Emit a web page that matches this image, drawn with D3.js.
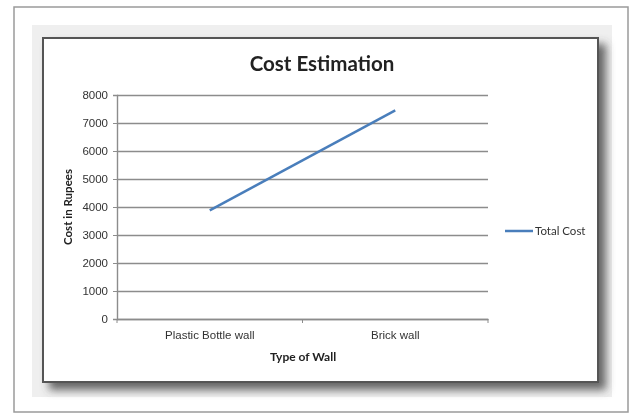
<!DOCTYPE html>
<html>
<head>
<meta charset="utf-8">
<script src="https://cdn.jsdelivr.net/npm/d3@7"></script>
<style>
  html, body { margin: 0; padding: 0; background: #fff; }
  svg { display: block; font-family: Lato, "Open Sans", sans-serif; }
  .tick text { fill: #333; }
</style>
</head>
<body>
<svg width="632" height="415"></svg>
<script>
// chart values
const categories = ["Plastic Bottle wall", "Brick wall"];
const totalCost = [3880, 7450];
const yTicks = [0, 1000, 2000, 3000, 4000, 5000, 6000, 7000, 8000];
const seriesName = "Total Cost";

const svg = d3.select("svg");

// frame + drop shadow like the pasted excel picture
const defs = svg.append("defs");
const sh = defs.append("filter").attr("id", "shadow")
    .attr("x", "-10%").attr("y", "-10%").attr("width", "130%").attr("height", "130%");
sh.append("feDropShadow")
    .attr("dx", 7).attr("dy", 7).attr("stdDeviation", 4)
    .attr("flood-color", "#444").attr("flood-opacity", 0.8);
const soft = defs.append("filter").attr("id", "soft");
soft.append("feGaussianBlur").attr("stdDeviation", 0.45);

svg.append("rect")
    .attr("x", 14).attr("y", 7).attr("width", 614).attr("height", 405)
    .attr("fill", "#fff").attr("stroke", "#9a9a9a").attr("stroke-width", 1.5);
svg.append("rect")
    .attr("x", 32).attr("y", 25).attr("width", 580).attr("height", 372)
    .attr("fill", "#efefef");
svg.append("rect")
    .attr("x", 43).attr("y", 38).attr("width", 555).attr("height", 344)
    .attr("fill", "#fff").attr("stroke", "#555").attr("stroke-width", 2)
    .attr("filter", "url(#shadow)");

const g = svg.append("g").attr("filter", "url(#soft)");

const x = d3.scaleBand().domain(categories).range([117, 488]).padding(0);
const y = d3.scaleLinear().domain([0, 8000]).range([319, 95]);

// gridlines
g.append("g")
    .attr("transform", "translate(117,0)")
    .call(d3.axisLeft(y).tickValues(yTicks).tickSize(-(488 - 117)).tickFormat(""))
    .call(a => a.select(".domain").remove())
    .call(a => a.selectAll("line").attr("stroke", "#8c8c8c").attr("stroke-width", 1.4));

// y axis
g.append("g")
    .attr("transform", "translate(117,0)")
    .call(d3.axisLeft(y).tickValues(yTicks).tickSize(4).tickPadding(5).tickFormat(d3.format("d")))
    .call(a => a.select(".domain").attr("stroke", "#8c8c8c").attr("stroke-width", 1.4))
    .call(a => a.selectAll("line").attr("stroke", "#8c8c8c"))
    .call(a => a.selectAll("text").attr("font-size", 11.5));

// x axis: labels at band centres, ticks at band edges
const xAxis = g.append("g").attr("transform", "translate(0,319)");
xAxis.call(d3.axisBottom(x).tickSize(0).tickPadding(12))
    .call(a => a.select(".domain").attr("stroke", "#8c8c8c").attr("stroke-width", 1.4))
    .call(a => a.selectAll("text").attr("font-size", 11.5));
const edges = categories.map(c => x(c)).concat([x(categories[categories.length - 1]) + x.bandwidth()]);
xAxis.selectAll("line.edge")
    .data(edges)
    .enter()
    .append("line")
    .attr("class", "edge")
    .attr("x1", d => d).attr("x2", d => d)
    .attr("y1", 0).attr("y2", 4)
    .attr("stroke", "#8c8c8c");

// the line
const line = d3.line()
    .x((d, i) => x(categories[i]) + x.bandwidth() / 2)
    .y(d => y(d));
g.append("path")
    .datum(totalCost)
    .attr("d", line)
    .attr("fill", "none")
    .attr("stroke", "#4a7ebb")
    .attr("stroke-width", 2.5);

// titles
g.append("text")
    .attr("x", 322).attr("y", 71)
    .attr("text-anchor", "middle")
    .attr("font-size", 20.5).attr("font-weight", "bold").attr("fill", "#222")
    .text("Cost Estimation");
g.append("text")
    .attr("x", 303).attr("y", 361)
    .attr("text-anchor", "middle")
    .attr("font-size", 12).attr("font-weight", "bold").attr("fill", "#222")
    .text("Type of Wall");
g.append("text")
    .attr("transform", "translate(72,207) rotate(-90)")
    .attr("text-anchor", "middle")
    .attr("font-size", 11.5).attr("font-weight", "bold").attr("fill", "#222")
    .text("Cost in Rupees");

// legend
const lg = g.append("g").attr("transform", "translate(505,231)");
lg.append("line")
    .attr("x1", 0).attr("x2", 28)
    .attr("stroke", "#4a7ebb").attr("stroke-width", 2.5);
lg.append("text")
    .attr("x", 30).attr("y", 4)
    .attr("font-size", 11.5).attr("fill", "#333")
    .text(seriesName);
</script>
</body>
</html>
